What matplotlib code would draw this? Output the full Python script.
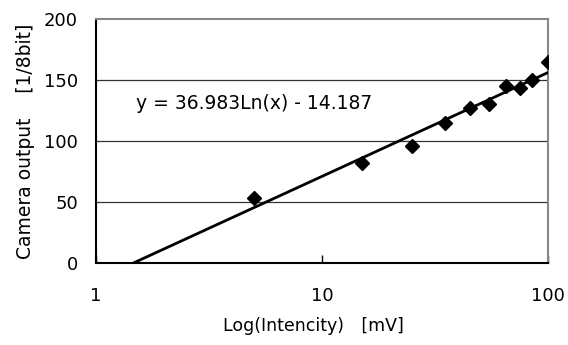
import numpy as np
import matplotlib
matplotlib.use("Agg")
import matplotlib.pyplot as plt
from matplotlib.ticker import FixedLocator, NullLocator

plt.rcParams['font.family'] = ['DejaVu Sans', 'Noto Sans CJK JP']

# measured points
intensity = [5, 15, 25, 35, 45, 55, 65, 75, 85, 100]
camera_out = [53, 82, 96, 115, 127, 130, 145, 143, 150, 165]

# log trendline from the chart
fit_a = 36.983
fit_b = -14.187
fit_label = "y = 36.983Ln(x) - 14.187"

fig = plt.figure(figsize=(5.68, 3.45), dpi=100)
ax = fig.add_axes([0.169, 0.238, 0.796, 0.707])

x0 = np.exp(-fit_b / fit_a)
xs = np.logspace(np.log10(x0), 2, 200)
ax.plot(xs, fit_a * np.log(xs) + fit_b, color='black', lw=2, zorder=3)
ax.plot(intensity, camera_out, 'D', color='black', markersize=7.5, zorder=4)

ax.set_xscale('log')
ax.set_xlim(1, 100)
ax.set_ylim(0, 200)
ax.xaxis.set_major_locator(FixedLocator([1, 10, 100]))
ax.xaxis.set_minor_locator(NullLocator())
ax.set_xticklabels(['1', '10', '100'])
ax.set_yticks([0, 50, 100, 150, 200])

for v in [50, 100, 150]:
    ax.axhline(v, color='#333333', lw=0.9, zorder=1)

ax.tick_params(axis='x', direction='in', length=6, width=1, labelsize=13, pad=17)
ax.tick_params(axis='y', length=0, labelsize=13, pad=13)

ax.spines['left'].set_color('black')
ax.spines['bottom'].set_color('black')
ax.spines['top'].set_color('#888888')
ax.spines['right'].set_color('#888888')
for s in ax.spines.values():
    s.set_linewidth(1.5)

ax.text(1.5, 131, fit_label, fontsize=13.5, va='center', ha='left')

ax.set_xlabel('Log(Intencity)\u3000[mV]', fontsize=12.5)
ax.xaxis.set_label_coords(0.48, -0.222)
ax.set_ylabel('Camera output\u3000 [1/8bit]', fontsize=13.5, labelpad=6)

fig.savefig('out.png', dpi=100)
